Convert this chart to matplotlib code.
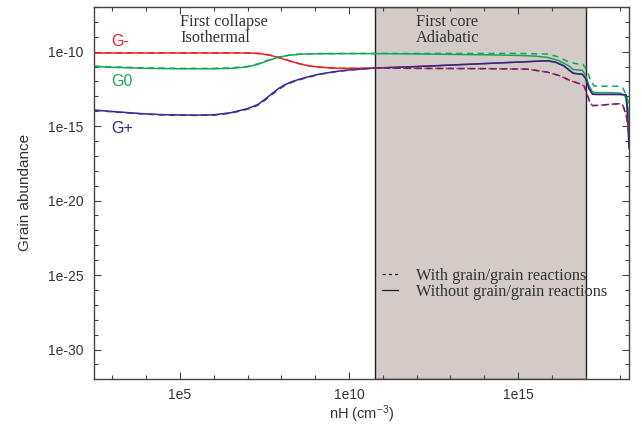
import numpy as np
import matplotlib
matplotlib.use("Agg")
import matplotlib.pyplot as plt
from matplotlib.lines import Line2D

plt.rcParams["mathtext.fontset"] = "custom"
plt.rcParams["mathtext.rm"] = "Liberation Sans"
plt.rcParams["mathtext.it"] = "Liberation Sans:italic"
plt.rcParams["mathtext.default"] = "regular"

# ---- data (log10 nH, log10 abundance) ----
gm_x = [2.47, 3.0, 4.0, 5.0, 6.0, 6.8, 7.16, 7.4, 7.66, 7.95, 8.25, 8.55, 8.85, 9.3, 9.73, 10.3, 10.77,
        12.0, 13.0, 14.0, 15.0, 15.86, 16.1, 16.35, 16.63, 16.9, 17.0, 17.1, 17.2, 17.3, 17.6, 18.0, 18.17, 18.2, 18.25, 18.28]
gm_y = [-10.09, -10.09, -10.09, -10.09, -10.09, -10.09, -10.1, -10.14, -10.24, -10.42, -10.63, -10.82, -10.97, -11.07, -11.12, -11.12, -11.1,
        -11.0, -10.9, -10.8, -10.7, -10.61, -10.7, -10.95, -11.45, -11.52, -11.8, -12.5, -12.85, -12.87, -12.87, -12.87, -12.9, -13.3, -14.5, -16.0]

gm_dx = [2.47, 3.0, 4.0, 5.0, 6.0, 6.8, 7.16, 7.4, 7.66, 7.95, 8.25, 8.55, 8.85, 9.3, 9.73, 10.3, 10.77,
         12.0, 14.0, 15.27, 15.86, 16.24, 16.55, 16.86, 16.95, 17.05, 17.12, 17.2, 17.4, 17.8, 18.0, 18.1, 18.2, 18.28]
gm_dy = [-10.08, -10.08, -10.08, -10.08, -10.08, -10.08, -10.09, -10.13, -10.23, -10.41, -10.62, -10.82, -10.97, -11.07, -11.12, -11.12, -11.1,
         -11.12, -11.14, -11.17, -11.37, -11.62, -11.95, -12.18, -12.3, -12.9, -13.4, -13.62, -13.6, -13.52, -13.5, -13.6, -14.3, -15.5]

g0_x = [2.47, 3.0, 4.0, 5.0, 6.0, 6.5, 7.0, 7.3, 7.6, 7.9, 8.2, 8.55, 9.0, 10.0, 11.0, 12.0, 13.0, 14.0, 15.0, 15.5,
        15.86, 16.2, 16.5, 16.63, 16.9, 17.0, 17.1, 17.2, 17.3, 17.8, 18.05, 18.17, 18.25, 18.28]
g0_y = [-11.0, -11.05, -11.12, -11.15, -11.15, -11.12, -11.02, -10.85, -10.6, -10.38, -10.25, -10.17, -10.14, -10.13, -10.13, -10.15, -10.18, -10.21, -10.25, -10.3,
        -10.38, -10.6, -10.95, -11.2, -11.25, -11.6, -12.3, -12.7, -12.75, -12.75, -12.8, -13.0, -13.8, -14.5]

g0_dx = [2.47, 3.0, 4.0, 5.0, 6.0, 6.5, 7.0, 7.3, 7.6, 7.9, 8.2, 8.55, 9.0, 10.0, 11.0, 12.0, 13.0, 14.0, 15.0,
         15.86, 16.2, 16.5, 16.75, 16.92, 17.05, 17.15, 17.25, 17.4, 18.0, 18.1, 18.2, 18.28]
g0_dy = [-10.97, -11.02, -11.09, -11.12, -11.12, -11.09, -10.99, -10.82, -10.57, -10.36, -10.24, -10.16, -10.13, -10.12, -10.12, -10.12, -10.12, -10.12, -10.12,
         -10.16, -10.35, -10.7, -10.82, -10.85, -11.3, -12.0, -12.3, -12.32, -12.32, -12.45, -12.9, -13.6]

gp_x = [2.47, 3.0, 3.5, 4.0, 4.5, 5.0, 5.5, 6.0, 6.5, 7.0, 7.3, 7.5, 7.7, 7.9, 8.1, 8.3, 8.55, 8.8, 9.14, 9.6, 10.03, 10.77,
        12.0, 13.0, 14.0, 15.0, 15.86, 16.1, 16.35, 16.63, 16.9, 17.0, 17.1, 17.2, 17.3, 17.6, 18.0, 18.2, 18.22, 18.25, 18.28]
gp_y = [-13.92, -14.02, -14.1, -14.18, -14.23, -14.25, -14.26, -14.24, -14.1, -13.82, -13.55, -13.22, -12.85, -12.5, -12.22, -12.02, -11.84, -11.68, -11.5, -11.33, -11.22, -11.1,
        -11.0, -10.9, -10.8, -10.7, -10.61, -10.7, -10.95, -11.45, -11.52, -11.8, -12.5, -12.85, -12.87, -12.87, -12.87, -12.9, -13.5, -15.0, -16.5]

gp_dx = [2.47, 3.0, 3.5, 4.0, 4.5, 5.0, 5.5, 6.0, 6.5, 7.0, 7.3, 7.5, 7.7, 7.9, 8.1, 8.3, 8.55, 8.8, 9.14, 9.6, 10.03, 10.77,
         12.0, 14.0, 15.27, 15.86, 16.24, 16.55, 16.86, 16.95, 17.05, 17.12, 17.2, 17.4, 17.8, 18.0, 18.1, 18.2, 18.28]
gp_dy = [-13.94, -14.04, -14.12, -14.2, -14.25, -14.27, -14.28, -14.26, -14.13, -13.86, -13.6, -13.28, -12.91, -12.56, -12.27, -12.06, -11.88, -11.71, -11.52, -11.35, -11.23, -11.1,
         -11.12, -11.14, -11.17, -11.37, -11.62, -11.95, -12.18, -12.3, -12.9, -13.4, -13.62, -13.6, -13.52, -13.5, -13.6, -14.3, -15.5]

core_range = [10.77, 17.0]
xticks = [1e5, 1e10, 1e15]
xticklabels = ["1e5", "1e10", "1e15"]
yticks = [1e-30, 1e-25, 1e-20, 1e-15, 1e-10]
yticklabels = ["1e-30", "1e-25", "1e-20", "1e-15", "1e-10"]

RED = "#e8262a"
GREEN = "#13a85a"
BLUE = "#272a8f"
PURPLE = "#58298a"
FRAME = "#444444"
TXT = "#333333"

fig = plt.figure(figsize=(6.42, 4.32), dpi=100)
ax = fig.add_axes([94.5 / 642, 1 - 379.3 / 432, (629 - 94.5) / 642, (379.3 - 7) / 432])
ax.set_xscale("log")
ax.set_yscale("log")
ax.set_xlim(10 ** 2.47, 10 ** 18.28)
ax.set_ylim(1e-32, 1e-7)

ax.axvspan(10 ** core_range[0], 10 ** core_range[1], facecolor="#d3cbc8", edgecolor="#222222", lw=1.0, zorder=0)

def p(xs, ys):
    return 10 ** np.array(xs), 10 ** np.array(ys)

dash = (0, (4, 3))
lw = 1.1
ax.plot(*p(gm_x, gm_y), color=RED, lw=lw, zorder=2)
ax.plot(*p(gm_dx, gm_dy), color=RED, lw=lw, ls=dash, zorder=3)
ax.plot(*p(g0_x, g0_y), color=GREEN, lw=lw, zorder=2)
ax.plot(*p(g0_dx, g0_dy), color=GREEN, lw=lw, ls=dash, zorder=3)
ax.plot(*p(gp_x, gp_y), color=BLUE, lw=lw, zorder=2)
ax.plot(*p(gp_dx, gp_dy), color=PURPLE, lw=lw, ls=dash, zorder=3)

# ticks
ax.set_xticks(xticks)
ax.set_xticklabels(xticklabels)
ax.set_yticks(yticks)
ax.set_yticklabels(yticklabels)
ax.xaxis.set_minor_locator(matplotlib.ticker.LogLocator(base=10, subs=[1.0], numticks=40))
ax.yaxis.set_minor_locator(matplotlib.ticker.LogLocator(base=10, subs=[1.0], numticks=40))
ax.xaxis.set_minor_formatter(matplotlib.ticker.NullFormatter())
ax.yaxis.set_minor_formatter(matplotlib.ticker.NullFormatter())
ax.tick_params(which="both", direction="in", top=True, right=True, color=FRAME, width=0.8,
               labelsize=10, labelcolor=TXT, labelfontfamily="Liberation Sans")
ax.tick_params(which="major", length=5)
ax.tick_params(axis="y", which="major", pad=8)
ax.tick_params(axis="x", which="major", pad=6.5)
ax.tick_params(which="minor", length=3)
for s in ax.spines.values():
    s.set_color(FRAME)
    s.set_linewidth(1.0)

fig.text(362 / 642, 1 - 414 / 432, "nH (cm$^{-3}$)", ha="center", va="center", fontsize=10.5,
         color=TXT, family="Liberation Sans")
fig.text(25 / 642, 1 - 192 / 432, "Grain abundance", ha="center", va="center", rotation=90,
         fontsize=11, color=TXT, family="Liberation Sans")

def axpt(px, py):
    return ((px - 94.5) / (629 - 94.5), (379.3 - py) / (379.3 - 7))

for lab, col, py in [("G-", RED, 42), ("G0", GREEN, 81), ("G+", BLUE, 128)]:
    ax.text(*axpt(111, py), lab, color=col, fontsize=11.5, family="Liberation Sans",
            ha="left", va="center", transform=ax.transAxes)

serif = "Liberation Serif"
fs = 11.7
ax.text(*axpt(180, 22), "First collapse", fontsize=fs, family=serif, color=TXT, ha="left", va="center", transform=ax.transAxes)
ax.text(*axpt(180, 38), "Isothermal", fontsize=fs, family=serif, color=TXT, ha="left", va="center", transform=ax.transAxes)
ax.text(*axpt(416, 22), "First core", fontsize=fs, family=serif, color=TXT, ha="left", va="center", transform=ax.transAxes)
ax.text(*axpt(416, 38), "Adiabatic", fontsize=fs, family=serif, color=TXT, ha="left", va="center", transform=ax.transAxes)

handles = [Line2D([], [], color="#222222", lw=0.9, ls=(0, (2.6, 2.4))),
           Line2D([], [], color="#222222", lw=0.9)]
leg = ax.legend(handles, ["With grain/grain reactions", "Without grain/grain reactions"],
                loc="upper left", bbox_to_anchor=axpt(381.5, 268), frameon=False,
                prop={"family": serif, "size": fs}, handlelength=1.0, handletextpad=1.15,
                labelspacing=0.0, borderpad=0, borderaxespad=0)
for t in leg.get_texts():
    t.set_color(TXT)

fig.savefig("out.png", dpi=100)
